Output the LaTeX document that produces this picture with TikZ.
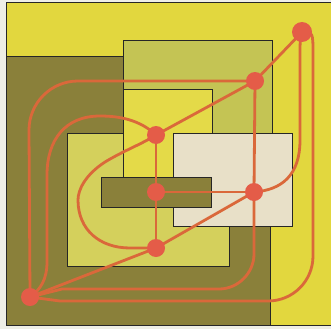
\documentclass[tikz,border=0pt]{standalone}
\usetikzlibrary{backgrounds}
\definecolor{paper}{RGB}{238,238,230}
\definecolor{bgyellow}{RGB}{226,215,62}
\definecolor{olive}{RGB}{138,128,58}
\definecolor{lgreen}{RGB}{196,196,84}
\definecolor{fcol}{RGB}{212,208,92}
\definecolor{cyellow}{RGB}{228,218,72}
\definecolor{cream}{RGB}{232,224,200}
\definecolor{wire}{RGB}{218,104,58}
\definecolor{dotc}{RGB}{228,92,72}
\pgfdeclarelayer{bg}
\pgfsetlayers{bg,main}
\tikzset{
  panel/.style={draw=black!85, line width=0.9pt},
  wireline/.style={draw=wire, line width=2.8pt, line cap=round},
  dot/.style={circle, fill=dotc, inner sep=0pt, minimum size=18pt},
  bigdot/.style={dot, minimum size=20pt}
}
\begin{document}
\begin{tikzpicture}[x=1pt,y=-1pt]
\useasboundingbox (0,0) rectangle (331,329);
\clip (0,0) rectangle (331,329);
% nodes (dots)
\node[bigdot] (n1) at (302,32) {};
\node[dot] (n2) at (255,81) {};
\node[dot] (n3) at (156,135) {};
\node[dot] (n4) at (156,192) {};
\node[dot] (n5) at (254,192) {};
\node[dot] (n6) at (156,248) {};
\node[dot] (n7) at (30,297) {};
\begin{pgfonlayer}{bg}
% paper and frame
\fill[paper] (0,0) rectangle (331,329);
\filldraw[fill=bgyellow, panel] (6,2) rectangle (340,325);
% panels
\filldraw[fill=olive, panel] (6,56) rectangle (270,325);
\filldraw[fill=lgreen, panel] (123,40) rectangle (272,200);
\filldraw[fill=fcol, panel] (67,133) rectangle (229,266);
\filldraw[fill=cyellow, panel] (123,89) rectangle (212,190);
\filldraw[fill=cream, panel] (173,133) rectangle (292,226);
\filldraw[fill=olive, panel] (101,177) rectangle (211,207);
% straight connectors
\draw[wireline] (n1.center) -- (n2.center);
\draw[wireline] (n2.center) -- (n3.center);
\draw[wireline] (n3.center) -- (n4.center);
\draw[wireline] (n4.center) -- (n6.center);
\draw[wireline] (n4.center) -- (n5.center);
\draw[wireline] (n2.center) -- (n5.center);
\draw[wireline] (n6.center) -- (n5.center);
\draw[wireline] (n6.center) -- (n7.center);
% curved connectors
\draw[wireline] (n2.center) -- (78,81)
   .. controls (51,81) and (29,103) .. (29,130) -- (n7.center);
\draw[wireline] (n3.center) .. controls (140,120) and (120,116) .. (100,116)
   .. controls (65,116) and (47,140) .. (47,175) -- (47,262)
   .. controls (47,280) and (40,290) .. (n7.center);
\draw[wireline] (n3.center) .. controls (140,145) and (125,150) .. (105,162)
   .. controls (85,175) and (78,190) .. (78,200)
   .. controls (78,230) and (100,248) .. (130,248) -- (n6.center);
\draw[wireline] (n1.center) .. controls (300,40) .. (300,60) -- (300,140)
   .. controls (300,175) and (282,190) .. (n5.center);
\draw[wireline] (n1.center) .. controls (313,32) .. (313,55) -- (313,256)
   .. controls (313,281) and (293,301) .. (268,301) -- (60,301) -- (n7.center);
\draw[wireline] (n5.center) -- (254,254)
   .. controls (254,273) and (238,289) .. (219,289) -- (62,289) -- (n7.center);
\end{pgfonlayer}
\end{tikzpicture}
\end{document}
